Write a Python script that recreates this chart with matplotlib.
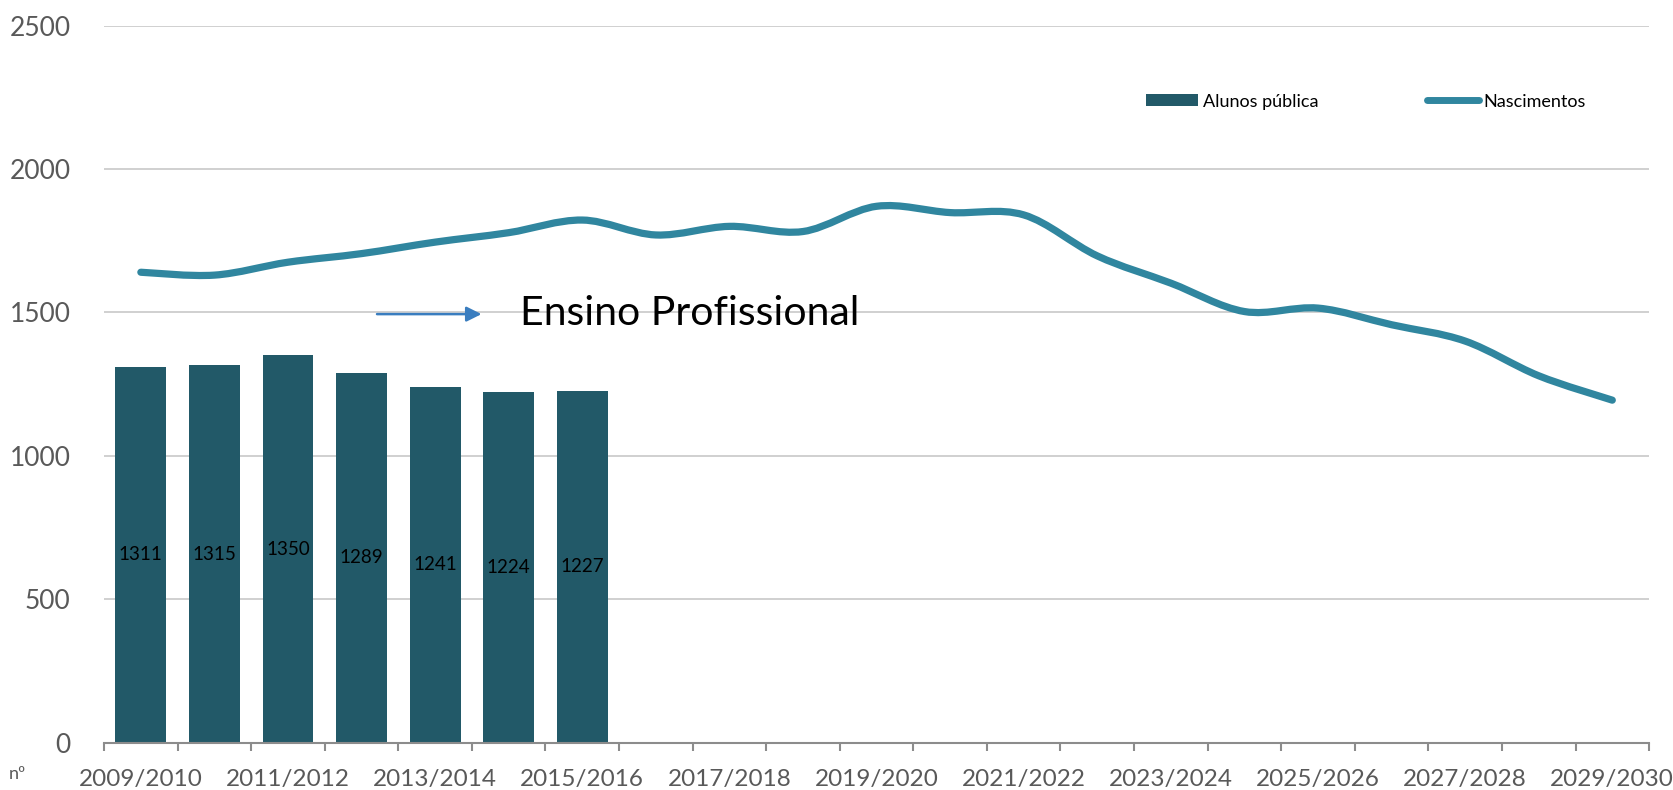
import numpy as np
import matplotlib
matplotlib.use("Agg")
import matplotlib.pyplot as plt
from matplotlib.path import Path
from matplotlib.patches import PathPatch, Patch
from matplotlib.lines import Line2D

plt.rcParams['font.family'] = ['Lato', 'DejaVu Sans']

# School years on the horizontal axis
years = [f"{y}/{y + 1}" for y in range(2009, 2030)]

# Students enrolled in public vocational education (known years only)
alunos = [1311, 1315, 1350, 1289, 1241, 1224, 1227]

# Births series aligned with the school years
nascimentos = [1640, 1630, 1675, 1705, 1745, 1778, 1822, 1770, 1800, 1782,
               1870, 1848, 1840, 1697, 1602, 1503, 1515, 1457, 1400, 1279, 1194]

y_ticks = [0, 500, 1000, 1500, 2000, 2500]

BAR_COLOR = "#225968"
LINE_COLOR = "#30869f"
TEXT_GRAY = "#595959"
GRID_GRAY = "#d0d0d0"
AXIS_GRAY = "#8c8c8c"


def smooth_path(xs, ys):
    """Cardinal (Catmull-Rom) spline through the points, as cubic Bezier segments."""
    pts = np.column_stack([xs, ys]).astype(float)
    n = len(pts)
    verts = [pts[0]]
    codes = [Path.MOVETO]
    for i in range(n - 1):
        p0 = pts[i - 1] if i > 0 else pts[i]
        p1 = pts[i]
        p2 = pts[i + 1]
        p3 = pts[i + 2] if i + 2 < n else pts[i + 1]
        c1 = p1 + (p2 - p0) / 6.0
        c2 = p2 - (p3 - p1) / 6.0
        verts += [c1, c2, p2]
        codes += [Path.CURVE4] * 3
    return Path(verts, codes)


fig = plt.figure(figsize=(16.73, 7.9), dpi=100)
ax = fig.add_axes([0.0622, 0.0600, 0.9235, 0.9076])

x_all = np.arange(len(years))
x_bars = np.arange(len(alunos))

bars = ax.bar(x_bars, alunos, width=0.69, color=BAR_COLOR, zorder=2)
for rect, v in zip(bars, alunos):
    ax.text(rect.get_x() + rect.get_width() / 2, v / 2, f"{v}",
            ha="center", va="center", fontsize=13.5, color="black", zorder=3)

line_patch = PathPatch(smooth_path(x_all, nascimentos), facecolor="none",
                       edgecolor=LINE_COLOR, lw=5.2, capstyle="round",
                       joinstyle="round", zorder=4)
ax.add_patch(line_patch)

ax.set_xlim(-0.5, len(years) - 0.5)
ax.set_ylim(0, 2500)

# Axis styling
for side in ("top", "right", "left"):
    ax.spines[side].set_visible(False)
ax.spines["bottom"].set_color(AXIS_GRAY)
ax.spines["bottom"].set_linewidth(1.5)

ax.set_yticks(y_ticks)
ax.set_yticklabels([str(t) for t in y_ticks])
ax.tick_params(axis="y", length=0, pad=24, labelsize=19, labelcolor=TEXT_GRAY)
ax.yaxis.grid(True, color=GRID_GRAY, lw=1.4, zorder=0)
ax.set_axisbelow(True)

ax.set_xticks(x_all[::2])
ax.set_xticklabels(years[::2])
ax.set_xticks(np.arange(-0.5, len(years)), minor=True)
ax.tick_params(axis="x", which="major", length=0, pad=19, labelsize=17.5,
               labelcolor=TEXT_GRAY)
ax.tick_params(axis="x", which="minor", length=6, width=1.5, color=AXIS_GRAY)

fig.text(0.005, 0.02, "nº", fontsize=13, color=TEXT_GRAY, ha="left", va="center")

# Annotation pointing to the vocational-education label
ax.annotate("", xy=(4.63, 1494), xytext=(3.21, 1494),
            arrowprops=dict(arrowstyle="-|>,head_length=0.9,head_width=0.45",
                            color="#3a7dbf", lw=1.8, shrinkA=0, shrinkB=0),
            zorder=5)
ax.text(5.15, 1456, "Ensino Profissional", fontsize=29.5, color="black",
        ha="left", va="baseline", zorder=5)

handles = [Patch(facecolor=BAR_COLOR, edgecolor="none", label="Alunos pública"),
           Line2D([], [], color=LINE_COLOR, lw=5, solid_capstyle="round",
                  label="Nascimentos")]
fig.legend(handles=handles, loc="center left", bbox_to_anchor=(0.685, 0.8715),
           ncol=2, frameon=False, fontsize=13, handlelength=2.9,
           handleheight=0.6, handletextpad=0.25, columnspacing=6.0,
           borderpad=0, borderaxespad=0)

fig.savefig("out.png", dpi=100, facecolor="white")
